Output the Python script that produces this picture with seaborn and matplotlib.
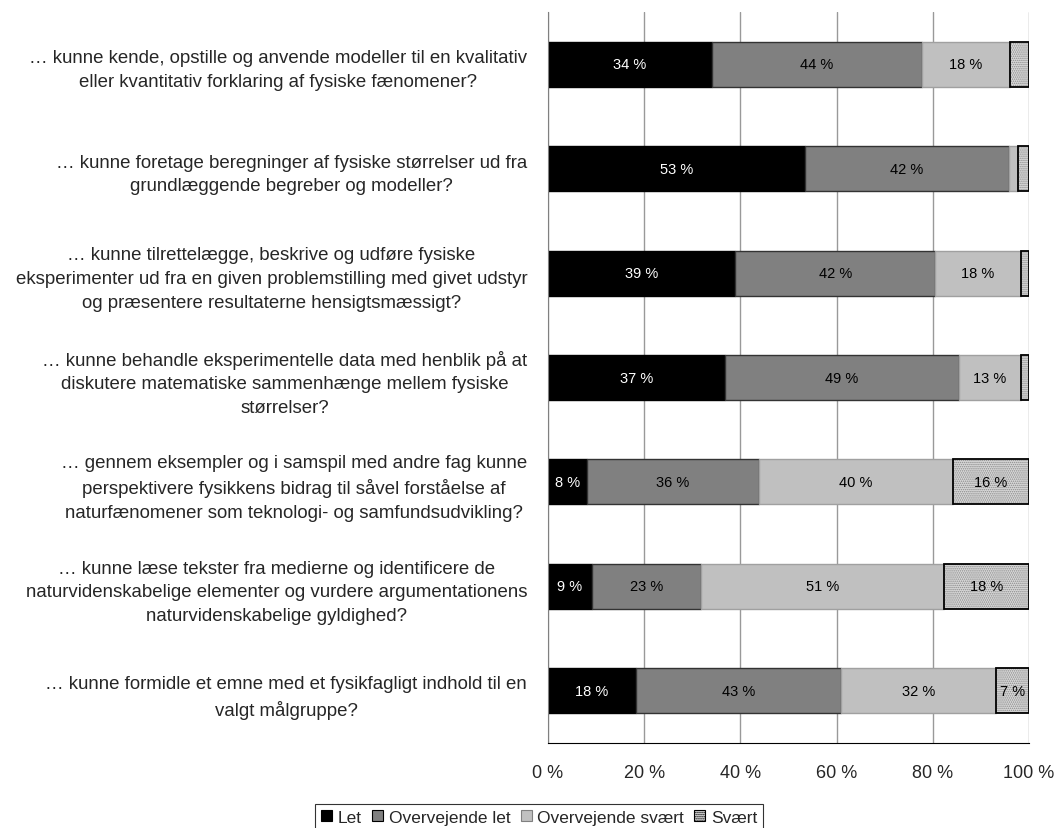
import numpy as np
import pandas as pd
import matplotlib
matplotlib.use("Agg")
import matplotlib.pyplot as plt
from matplotlib.patches import Patch
import seaborn as sns

# spørgsmål (top til bund)
questions = [
    "… kunne kende, opstille og anvende modeller til en kvalitativ\neller kvantitativ forklaring af fysiske fænomener?",
    "… kunne foretage beregninger af fysiske størrelser ud fra\ngrundlæggende begreber og modeller?",
    "… kunne tilrettelægge, beskrive og udføre fysiske\neksperimenter ud fra en given problemstilling med givet udstyr\nog præsentere resultaterne hensigtsmæssigt?",
    "… kunne behandle eksperimentelle data med henblik på at\ndiskutere matematiske sammenhænge mellem fysiske\nstørrelser?",
    "… gennem eksempler og i samspil med andre fag kunne\nperspektivere fysikkens bidrag til såvel forståelse af\nnaturfænomener som teknologi- og samfundsudvikling?",
    "… kunne læse tekster fra medierne og identificere de\nnaturvidenskabelige elementer og vurdere argumentationens\nnaturvidenskabelige gyldighed?",
    "… kunne formidle et emne med et fysikfagligt indhold til en\nvalgt målgruppe?",
]
categories = ["Let", "Overvejende let", "Overvejende svært", "Svært"]
let = [34.1, 53.4, 38.9, 36.8, 8.0, 9.1, 18.2]
overv_let = [43.6, 42.4, 41.6, 48.6, 35.9, 22.6, 42.7]
overv_svaert = [18.3, 1.9, 17.8, 13.0, 40.2, 50.7, 32.2]
svaert = [4.0, 2.3, 1.7, 1.6, 15.9, 17.6, 6.9]
xticks = [0, 20, 40, 60, 80, 100]

series = [let, overv_let, overv_svaert, svaert]
df = pd.DataFrame({"spm": questions})
for c, s in zip(categories, series):
    df[c] = s

sns.set_style("white")
plt.rcParams["font.family"] = ["Liberation Sans", "DejaVu Sans"]
plt.rcParams["hatch.linewidth"] = 0.7

fig = plt.figure(figsize=(10.59, 8.29), dpi=100)
ax = fig.add_axes([0.5175, 0.1025, 0.4542, 0.8818])

faces = ["#000000", "#808080", "#c0c0c0", "#d8d8d8"]
edges = ["#000000", "#333333", "#a0a0a0", "#000000"]
txtcol = ["white", "black", "black", "black"]
bh = 0.43
hatch = "........"


def stack_bar(col, start, **kws):
    # seaborn tegner fra 0, flyt de nye bjælker hen til start
    n0 = len(ax.patches)
    sns.barplot(data=df, x=col, y="spm", orient="h", width=bh, ax=ax, **kws)
    for p, s in zip(ax.patches[n0:], start):
        p.set_x(s)


left = np.zeros(len(questions))
handles = []
for i, c in enumerate(categories):
    if c == "Svært":
        # hatch i gråt, derefter sort kant
        stack_bar(c, left, color=faces[i], saturation=1, hatch=hatch,
                  edgecolor="#8a8a8a", linewidth=0)
        stack_bar(c, left, fill=False, edgecolor="#000000", linewidth=1.3)
    else:
        stack_bar(c, left, color=faces[i], saturation=1, edgecolor=edges[i],
                  linewidth=1.0)
    vals = df[c].values
    for j, v in enumerate(vals):
        if v >= 5:
            ax.text(left[j] + v / 2, j, f"{v:.0f} %", ha="center", va="center",
                    color=txtcol[i], fontsize=10.5)
    left = left + vals
    handles.append(Patch(facecolor=faces[i], edgecolor="#000000" if i != 2 else "#808080",
                         hatch=hatch if c == "Svært" else None, linewidth=0.8))

ax.set_xlim(0, 100)
ax.set_ylim(len(questions) - 0.5, -0.5)
ax.set_xticks(xticks)
ax.set_xticklabels([f"{t} %" for t in xticks], fontsize=13)
ax.set_yticks(range(len(questions)))
ax.set_yticklabels(questions, fontsize=13.4, multialignment="center", linespacing=1.52)
ax.set_yticks(np.arange(-0.5, len(questions), 1), minor=True)
ax.set_xlabel("")
ax.set_ylabel("")

ax.tick_params(axis="y", which="major", length=0, pad=15)
ax.tick_params(axis="y", which="minor", length=6, color="#808080", width=1)
ax.tick_params(axis="x", which="major", length=5, color="#000000", width=1, pad=10)

ax.grid(axis="x", color="#999999", linewidth=1)
ax.set_axisbelow(True)
sns.despine(ax=ax, top=True, right=True)
ax.spines["left"].set_color("#808080")
ax.spines["bottom"].set_color("#000000")

leg = fig.legend(handles=handles, labels=categories, loc="upper center",
                 bbox_to_anchor=(0.509, 0.04), ncol=4, fontsize=12.5,
                 frameon=True, fancybox=False, handlelength=0.65, handleheight=0.65,
                 handletextpad=0.3, columnspacing=0.6, borderpad=0.35)
leg.get_frame().set_edgecolor("#000000")
leg.get_frame().set_linewidth(0.8)

fig.savefig("out.png", dpi=100)
